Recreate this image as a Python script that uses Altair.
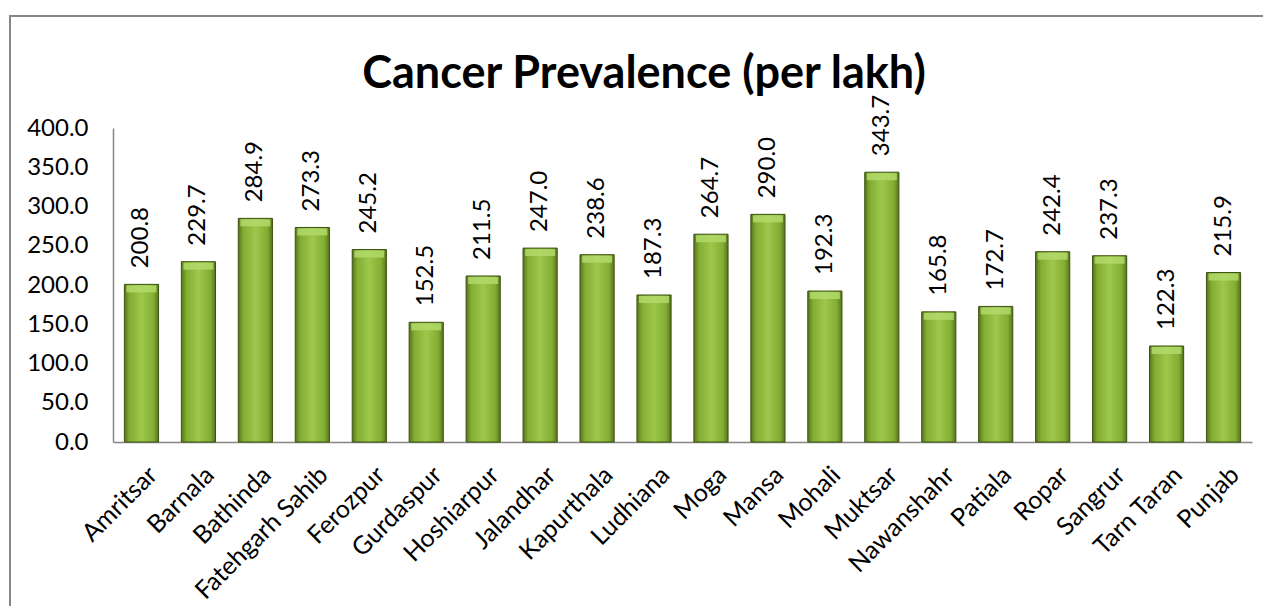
import altair as alt
import pandas as pd

districts = ["Amritsar", "Barnala", "Bathinda", "Fatehgarh Sahib", "Ferozpur", "Gurdaspur",
             "Hoshiarpur", "Jalandhar", "Kapurthala", "Ludhiana", "Moga", "Mansa", "Mohali",
             "Muktsar", "Nawanshahr", "Patiala", "Ropar", "Sangrur", "Tarn Taran", "Punjab"]
prevalence = [200.8, 229.7, 284.9, 273.3, 245.2, 152.5, 211.5, 247.0, 238.6, 187.3,
              264.7, 290.0, 192.3, 343.7, 165.8, 172.7, 242.4, 237.3, 122.3, 215.9]
y_ticks = [0, 50, 100, 150, 200, 250, 300, 350, 400]
title_text = "Cancer Prevalence (per lakh)"

df = pd.DataFrame({"district": districts, "value": prevalence})
df["label"] = df["value"].map(lambda v: f"{v:.1f}")

FONT = "Lato"
FS = 24
W, H = 1139, 314

x = alt.X("district:N", sort=districts, title=None,
          scale=alt.Scale(paddingInner=0.4, paddingOuter=0.2),
          axis=alt.Axis(labelAngle=-45, labelFontSize=25, labelFont=FONT, labelColor="#000000",
                        ticks=False, tickSize=0, labelPadding=20, labelOffset=3,
                        domainColor="#868686", domainWidth=1.5, labelLimit=300,
                        labelOverlap=False))
y = alt.Y("value:Q", title=None,
          scale=alt.Scale(domain=[0, 400], nice=False),
          axis=alt.Axis(values=y_ticks, format=".1f", labelFontSize=FS, labelFont=FONT,
                        labelColor="#000000", ticks=False, tickSize=0, labelPadding=25,
                        grid=False, domainColor="#868686", domainWidth=1.5,
                        labelOverlap=False, labelFlush=False))

base = alt.Chart(df)

grad = alt.Gradient(
    gradient="linear", x1=0, x2=1, y1=0, y2=0,
    stops=[alt.GradientStop(offset=0, color="#56741a"),
           alt.GradientStop(offset=0.15, color="#84ad33"),
           alt.GradientStop(offset=0.5, color="#9cc84b"),
           alt.GradientStop(offset=0.85, color="#84ad33"),
           alt.GradientStop(offset=1, color="#56741a")])

bars = base.mark_bar(color=grad, stroke="#3d5212", strokeWidth=1).encode(x=x, y=y)

bevel = base.mark_tick(color="#b2d96a", thickness=7, size=30, yOffset=4.5, opacity=0.85).encode(
    x=x, y=y)

labels = base.mark_text(angle=270, align="left", baseline="middle", fontSize=FS, font=FONT,
                        color="#000000", yOffset=-16).encode(
    x=x, y=y, text="label:N")

title = alt.Chart(pd.DataFrame({"t": [title_text]})).mark_text(
    font=FONT, fontSize=45, fontWeight="bold", color="#000000",
    align="center", baseline="alphabetic").encode(
    x=alt.value(531), y=alt.value(-40), text="t:N")

one = alt.Chart(pd.DataFrame({"k": [0]}))
frame_top = one.mark_rule(color="#868686", strokeWidth=2).encode(
    x=alt.value(-103), x2=alt.value(1160), y=alt.value(-112))
frame_left = one.mark_rule(color="#868686", strokeWidth=2).encode(
    x=alt.value(-103), y=alt.value(-113), y2=alt.value(480))

chart = alt.layer(bars, bevel, labels, title, frame_top, frame_left).properties(
    width=W, height=H,
    autosize=alt.AutoSizeParams(type="none"),
    padding={"left": 105, "top": 120, "right": 11, "bottom": 164},
).configure_view(stroke=None)

chart.save("out.html", embed_options={"renderer": "svg", "actions": False})
